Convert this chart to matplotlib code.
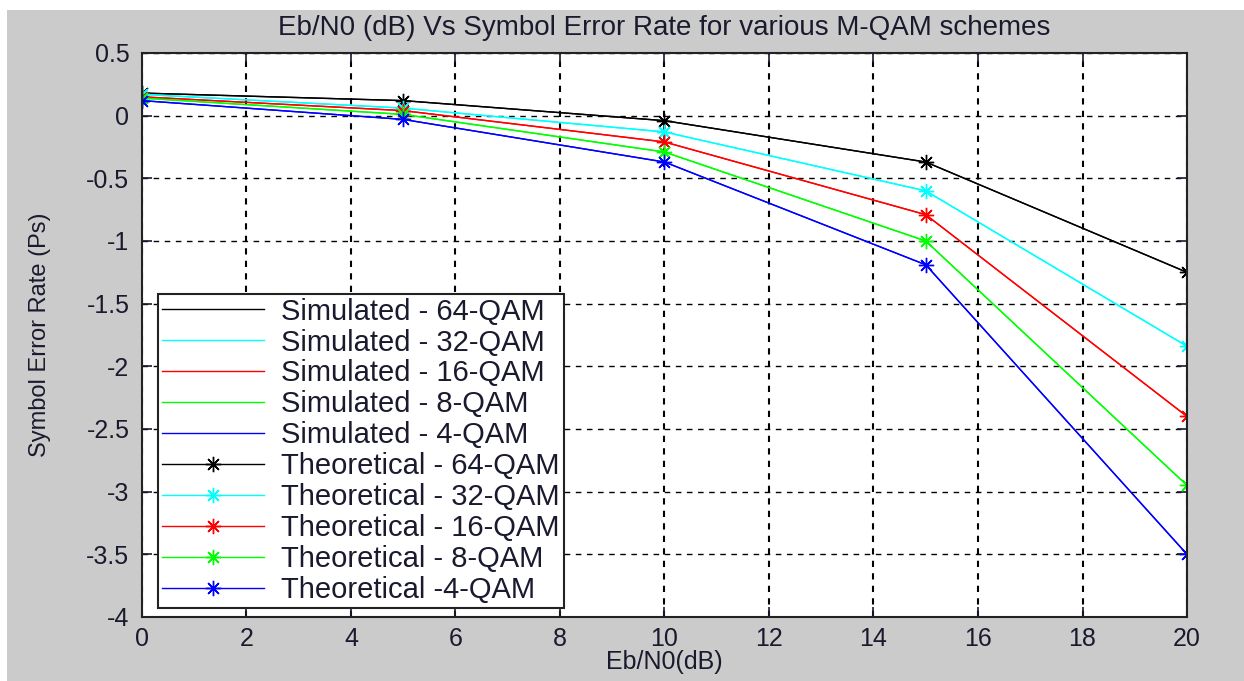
import matplotlib
matplotlib.use("Agg")
import matplotlib.pyplot as plt
from matplotlib.patches import Rectangle

plt.rcParams['font.family'] = ['Liberation Sans', 'DejaVu Sans']
plt.rcParams['axes.unicode_minus'] = False

# Eb/N0 points (dB)
ebn0 = [0, 5, 10, 15, 20]

# simulated symbol error rate (as plotted)
sim_64 = [0.18, 0.12, -0.04, -0.37, -1.25]
sim_32 = [0.17, 0.06, -0.13, -0.60, -1.84]
sim_16 = [0.15, 0.04, -0.21, -0.79, -2.40]
sim_8 = [0.14, 0.01, -0.29, -1.00, -2.95]
sim_4 = [0.12, -0.03, -0.37, -1.19, -3.50]

# theoretical curves sit on top of the simulated ones
th_64 = [0.18, 0.12, -0.04, -0.37, -1.25]
th_32 = [0.17, 0.06, -0.13, -0.60, -1.84]
th_16 = [0.15, 0.04, -0.21, -0.79, -2.40]
th_8 = [0.14, 0.01, -0.29, -1.00, -2.95]
th_4 = [0.12, -0.03, -0.37, -1.19, -3.50]

sim_labels = ['Simulated - 64-QAM', 'Simulated - 32-QAM', 'Simulated - 16-QAM',
              'Simulated - 8-QAM', 'Simulated - 4-QAM']
th_labels = ['Theoretical - 64-QAM', 'Theoretical - 32-QAM', 'Theoretical - 16-QAM',
             'Theoretical - 8-QAM', 'Theoretical -4-QAM']
colors = ['#000000', '#00ffff', '#ff0000', '#00ff00', '#0000ff']

fig = plt.figure(figsize=(12.44, 6.81), dpi=100, facecolor='white')
fig.patches.append(Rectangle((0.0056, 0), 1, 0.9853, transform=fig.transFigure,
                             facecolor='#cbcbcb', edgecolor='none', zorder=-10))

ax = fig.add_axes([0.1141, 0.0940, 0.8401, 0.8282])
ax.set_facecolor('white')

for ys, lab, c in zip([sim_64, sim_32, sim_16, sim_8, sim_4], sim_labels, colors):
    ax.plot(ebn0, ys, color=c, lw=1.0, label=lab)
for ys, lab, c in zip([th_64, th_32, th_16, th_8, th_4], th_labels, colors):
    ax.plot(ebn0, ys, color=c, lw=1.0, marker=(8, 2, 0), ms=11, mew=1.0, label=lab)

ax.set_xlim(0, 20)
ax.set_ylim(-4, 0.5)
ax.set_xticks(range(0, 21, 2))
yt = [0.5, 0, -0.5, -1, -1.5, -2, -2.5, -3, -3.5, -4]
ax.set_yticks(yt)
ax.set_yticklabels(['0.5', '0', '-0.5', '-1', '-1.5', '-2', '-2.5', '-3', '-3.5', '-4'])

ax.tick_params(direction='in', length=7, width=1.2, top=True, right=True,
               labelsize=18, colors='#1a1a2e')
ax.tick_params(axis='x', pad=7)
ax.tick_params(axis='y', pad=9)
for s in ax.spines.values():
    s.set_linewidth(1.5)
    s.set_color('#222222')

ax.xaxis.grid(True, color='black', linestyle=(0, (3, 3)), lw=1.5)
ax.yaxis.grid(True, color='black', linestyle=(0, (4, 4)), lw=1.0)
ax.set_axisbelow(True)

ax.set_xlabel('Eb/N0(dB)', fontsize=18, color='#1a1a2e', va='center')
ax.xaxis.set_label_coords(0.5, -0.08)
ax.set_ylabel('Symbol Error Rate (Ps)', fontsize=17, color='#1a1a2e', va='center')
ax.yaxis.set_label_coords(-0.098, 0.5)

fig.text(0.534, 0.959, 'Eb/N0 (dB) Vs Symbol Error Rate for various M-QAM schemes',
         ha='center', va='center', fontsize=20, color='#1a1a2e')

leg = ax.legend(loc='lower left', bbox_to_anchor=(0.015, 0.016), borderaxespad=0,
                fontsize=21, fancybox=False, framealpha=1, edgecolor='#222222',
                handlelength=3.5, handletextpad=0.6, labelspacing=0.1,
                borderpad=0.14, markerscale=1.0)
leg.get_frame().set_linewidth(1.5)
for t in leg.get_texts():
    t.set_color('#1a1a2e')

fig.savefig('out.png', dpi=100, facecolor='white')
